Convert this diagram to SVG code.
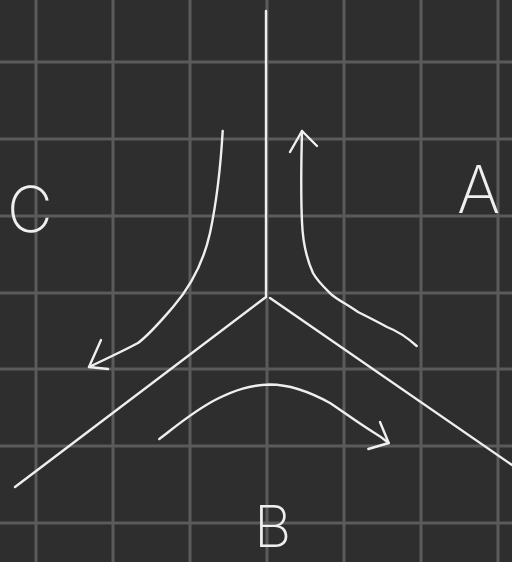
<svg xmlns="http://www.w3.org/2000/svg" width="512" height="562" viewBox="0 0 512 562">
<style>
.grid{stroke:#5b5b5b;stroke-width:3;fill:none}
.ink{stroke:#efefef;stroke-width:2.4;fill:none;stroke-linecap:round;stroke-linejoin:round}
.lbl{fill:#efefef;font-family:Inter,"Liberation Sans",sans-serif;font-weight:200}
</style>
<rect width="512" height="562" fill="#2e2e2e"/>
<g id="grid" class="grid">
<path d="M36 0V562M113 0V562M190 0V562M267 0V562M344 0V562M421 0V562M498 0V562"/>
<path d="M0 62H512M0 139H512M0 216H512M0 293H512M0 369H512M0 446H512M0 523H512"/>
</g>
<g id="branches" class="ink">
<path d="M266 11V296"/>
<path d="M266 297L15 487"/>
<path d="M270 298L512 465"/>
</g>
<g id="connectors" class="ink">
<path d="M416.7 346C410 340 400 332 387 327C378 322 368 317 358 312C348 305 338 300 332 295C325 288 318 282 313 273C308 262 303 248 302 222C301 200 301 170 302 131"/>
<path d="M290 152L302 131L317 146"/>
<path d="M222.7 131C221 160 217 200 210 233C204 260 192 285 173 307C160 322 150 334 138 343C125 350 108 358 89 367"/>
<path d="M101 340L89 367L108 369"/>
<path d="M159.3 439C175 427 195 410 217 399C235 390 250 385 270 384.5C290 384.5 310 392 330 403C345 413 357 422 373 432C380 436 385 440 388.7 443"/>
<path d="M380 422L388.7 443L368.3 449"/>
</g>
<g id="label-A"><text class="lbl" x="457" y="213" font-size="66">A</text></g>
<g id="label-B"><text class="lbl" x="254" y="547" font-size="58">B</text></g>
<g id="label-C"><text class="lbl" x="7" y="232" font-size="63">C</text></g>
</svg>
